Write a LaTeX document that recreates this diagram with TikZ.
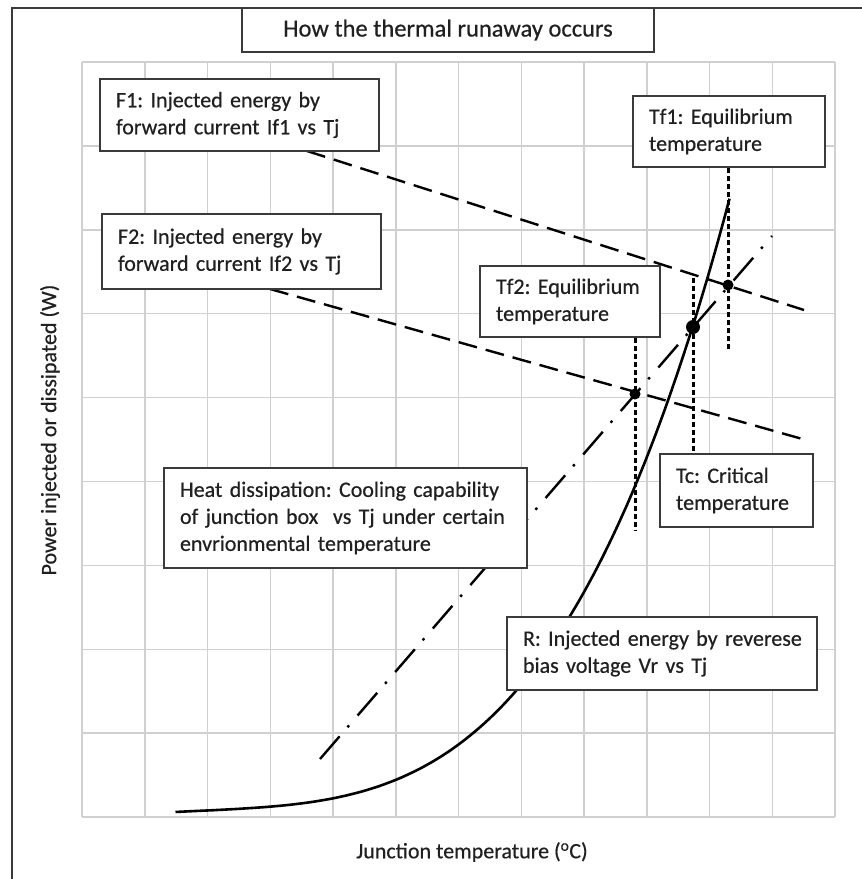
\documentclass[tikz,border=0pt]{standalone}
\usepackage{fontspec}
\setmainfont{Carlito}[BoldFont=Carlito, BoldFeatures={FakeBold=0.5}]
\frenchspacing
\definecolor{gridc}{HTML}{D0D0D0}
\definecolor{boxc}{HTML}{3A3A3A}
\definecolor{txtc}{HTML}{202020}
\pgfdeclarelayer{gridlayer}
\pgfdeclarelayer{linelayer}
\pgfsetlayers{gridlayer,linelayer,main}
\begin{document}
\begin{tikzpicture}[x=1pt,y=-1pt,
  every node/.style={font=\fontsize{22}{27}\selectfont\bfseries, text=txtc},
  box/.style={draw=boxc, line width=1.8pt, fill=white, rectangle, inner xsep=16pt, inner ysep=0pt, align=left},
  gridline/.style={draw=gridc, line width=1.5pt},
  fline/.style={draw=black, line width=2.4pt, dash pattern=on 19pt off 9pt},
  hline/.style={draw=black, line width=2.4pt, dash pattern=on 30pt off 12pt on 2.5pt off 13pt},
  vdotline/.style={draw=black, line width=3pt, dash pattern=on 5pt off 3pt},
  rcurve/.style={draw=black, line width=2.6pt},
  dot/.style={circle, fill=black, inner sep=0pt, minimum size=11pt},
  bigdot/.style={circle, fill=black, inner sep=0pt, minimum size=14pt}]
\useasboundingbox (0,0) rectangle (862,879);
% frame
\draw[boxc, line width=1.8pt] (12,879) -- (12,8) -- (862,8);
% grid
\begin{pgfonlayer}{gridlayer}
\foreach \i in {0,...,12} {\draw[gridline] ({82+\i*62.75},62) -- ({82+\i*62.75},817);}
\foreach \j in {0,...,9} {\draw[gridline] (82,{62+\j*83.9}) -- (835,{62+\j*83.9});}
\end{pgfonlayer}
% title and labels
\node[box, minimum width=412pt, minimum height=44pt, align=center, font=\fontsize{24.5}{28}\selectfont\bfseries] (title) at (448,30) {How the thermal runaway occurs};
\node[rotate=90] (ylab) at (50,430) {Power injected or dissipated (W)};
\node (xlab) at (472,852) {Junction temperature (\textsuperscript{o}C)};
% boxes
\node[box, text width=247pt, minimum height=72pt] (F1) at (239.5,115) {\mbox{F1: Injected energy by}\\\mbox{forward current If1 vs Tj}};
\node[box, text width=247pt, minimum height=75pt] (F2) at (241.5,251.5) {\mbox{F2: Injected energy by}\\\mbox{forward current If2 vs Tj}};
\node[box, text width=160pt, minimum height=71pt] (Tf1) at (729,131.5) {\mbox{Tf1: Equilibrium}\\\mbox{temperature}};
\node[box, text width=148pt, minimum height=71pt] (Tf2) at (570,301.5) {\mbox{Tf2: Equilibrium}\\\mbox{temperature}};
\node[box, text width=331pt, minimum height=100pt] (heat) at (345.5,518) {\mbox{Heat dissipation: Cooling capability}\\\mbox{of junction box\ \ vs Tj under certain}\\\mbox{envrionmental temperature}};
\node[box, text width=121pt, minimum height=73pt] (Tc) at (736.5,490.5) {\mbox{Tc: Critical}\\\mbox{temperature}};
\node[box, text width=278pt, minimum height=73pt] (R) at (662,653.5) {\mbox{R: Injected energy by reverese}\\\mbox{bias voltage Vr vs Tj}};
% coordinates
\coordinate (f1a) at (307,151);
\coordinate (f1b) at (804,310);
\coordinate (f2a) at (270,289);
\coordinate (f2b) at (806,440);
\coordinate (ha) at (320,759);
\coordinate (hb) at (772,236);
\coordinate (v1) at (728,350);
\coordinate (v2) at (635,531);
\coordinate (v3) at (693,278);
\begin{pgfonlayer}{linelayer}
\draw[fline] (f1a) -- (f1b);
\draw[fline] (f2a) -- (f2b);
\draw[hline] (ha) -- (hb);
\draw[rcurve] plot[domain=175.5:729.5, samples=120, smooth] (\x, {812 - 604*pow((\x-175)/552,3.45) - 0.05*(\x-175)*(1-(\x-175)/552)});
\node[dot] (d2) at (635,394) {};
\node[dot] (d1) at (728,285) {};
\node[bigdot] (dc) at (693,327) {};
\draw[vdotline] (Tf1.south -| d1) -- (v1);
\draw[vdotline] (Tf2.south -| d2) -- (v2);
\draw[vdotline] (v3) -- (Tc.north -| dc);
\end{pgfonlayer}
\end{tikzpicture}
\end{document}
